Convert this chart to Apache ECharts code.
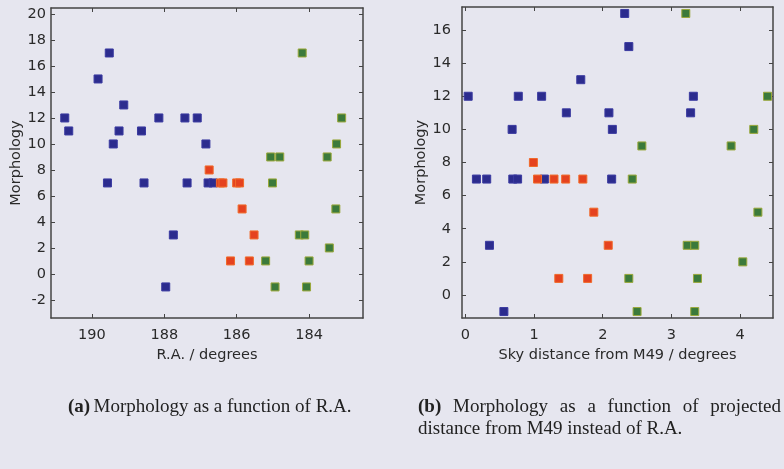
<!DOCTYPE html>
<html>
<head>
<meta charset="utf-8">
<script src="https://cdn.jsdelivr.net/npm/echarts@6/dist/echarts.min.js"></script>
<style>
html,body{margin:0;padding:0;background:#e6e6ef;}
#c{width:784px;height:469px;}
</style>
</head>
<body>
<div id="c"></div>
<script>
// Panel (a): Morphology vs R.A.
const raBlue = [190.75,190.64,189.83,189.52,189.41,189.25,189.12,188.63,188.15,187.43,187.09,186.85,189.57,188.56,187.37,186.79,186.65,187.75,187.96];
const morphBlueA = [12,11,15,17,10,11,13,11,12,12,12,10,7,7,7,7,7,3,-1];
const raRed = [186.76,186.45,186.38,186.0,185.92,185.85,185.52,186.17,185.65];
const morphRedA = [8,7,7,7,7,5,3,1,1];
const raGreen = [185.06,184.81,183.5,185.01,183.26,184.27,184.12,183.44,185.2,184.0,184.94,184.07,184.19,183.1,183.24];
const morphGreenA = [9,9,9,7,5,3,3,2,1,1,-1,-1,17,12,10];

// Panel (b): Morphology vs sky distance from M49
const distBlue = [0.04,0.77,1.11,3.32,1.68,1.47,2.09,3.28,0.68,2.14,2.32,2.38,0.16,0.31,0.69,0.76,1.15,2.13,0.35,0.56];
const morphBlueB = [12,12,12,12,13,11,11,11,10,10,17,15,7,7,7,7,7,7,3,-1];
const distRed = [0.99,1.05,1.29,1.46,1.71,1.87,2.08,1.36,1.78];
const morphRedB = [8,7,7,7,7,5,3,1,1];
const distGreen = [3.21,4.40,4.20,2.57,3.87,2.43,4.26,3.23,3.34,4.04,2.38,3.38,2.50,3.34];
const morphGreenB = [17,12,10,9,9,7,5,3,3,2,1,1,-1,-1];

// Tick labels
const raTicks = [184,186,188,190];
const morphTicksA = [-2,0,2,4,6,8,10,12,14,16,18,20];
const distTicks = [0,1,2,3,4];
const morphTicksB = [0,2,4,6,8,10,12,14,16];

// Captions
const captionA = 'Morphology as a function of R.A.';
const captionB1 = ['Morphology','as','a','function','of','projected'];
const captionB2 = 'distance from M49 instead of R.A.';

const zip = (a,b) => a.map((v,i) => [v,b[i]]);

const axisColor = '#444';
const labelStyle = {color:'#2a2a2a', fontFamily:'DejaVu Sans', fontSize:14.5};
function axis(opts){
  return Object.assign({
    type:'value',
    axisLine:{show:true, onZero:false, lineStyle:{color:axisColor, width:1.5}},
    axisTick:{show:true, inside:true, length:4, lineStyle:{color:axisColor}, customValues:opts.ticks},
    axisLabel:Object.assign({show:opts.labels, customValues:opts.ticks, margin:opts.margin||6}, labelStyle),
    splitLine:{show:false},
    nameTextStyle:Object.assign({}, labelStyle),
  }, opts.extra);
}

const colors = {blue:'#2c2c8e', red:'#e5421f', green:'#3b7a3b'};
function ser(name, data, xi, yi, color, border){
  return {type:'scatter', name, data, xAxisIndex:xi, yAxisIndex:yi, symbol:'rect', symbolSize:8,
    itemStyle:{color, borderColor:border, borderWidth:1, opacity:1}, silent:true, animation:false};
}

// Caption text (justified first line of (b), as in LaTeX)
const capFont = 'Liberation Serif';
const capSize = 19;
const capColor = '#222';
const mctx = document.createElement('canvas').getContext('2d');
function tw(t, bold){ mctx.font = (bold?'bold ':'') + capSize + 'px "' + capFont + '"'; return mctx.measureText(t).width; }

const graphics = [];
graphics.push({type:'text', left:68, top:398, style:{rich:{
    b:{fontFamily:capFont, fontSize:capSize, fontWeight:'bold', fill:capColor},
    n:{fontFamily:capFont, fontSize:capSize, fill:capColor}},
  text:'{b|(a)} {n|' + captionA + '}'}});
const bStart = 418, bEnd = 781;
const words = [{t:'(b)', bold:true}].concat(captionB1.map(t => ({t, bold:false})));
const totalW = words.reduce((s,w) => s + tw(w.t, w.bold), 0);
const gap = Math.max(tw(' ', false), (bEnd - bStart - totalW) / (words.length - 1));
let xpos = bStart;
words.forEach(w => {
  graphics.push({type:'text', left:xpos, top:398, style:{text:w.t, fontFamily:capFont, fontSize:capSize,
    fontWeight:w.bold?'bold':'normal', fill:capColor}});
  xpos += tw(w.t, w.bold) + gap;
});
graphics.push({type:'text', left:bStart, top:420, style:{fontFamily:capFont, fontSize:capSize, fill:capColor, text:captionB2}});

const option = {
  backgroundColor:'#e6e6ef',
  animation:false,
  grid:[
    {left:51, top:8, width:312, height:310},
    {left:462, top:7, width:311, height:311}
  ],
  xAxis:[
    axis({ticks:raTicks, labels:true, margin:10, extra:{gridIndex:0, min:182.51, max:191.13, inverse:true, position:'bottom',
      name:'R.A. / degrees', nameLocation:'middle', nameGap:29}}),
    axis({ticks:raTicks, labels:false, extra:{gridIndex:0, min:182.51, max:191.13, inverse:true, position:'top'}}),
    axis({ticks:distTicks, labels:true, margin:10, extra:{gridIndex:1, min:-0.05, max:4.48, position:'bottom',
      name:'Sky distance from M49 / degrees', nameLocation:'middle', nameGap:29}}),
    axis({ticks:distTicks, labels:false, extra:{gridIndex:1, min:-0.05, max:4.48, position:'top'}})
  ],
  yAxis:[
    axis({ticks:morphTicksA, labels:true, margin:5, extra:{gridIndex:0, min:-3.39, max:20.46, position:'left',
      name:'Morphology', nameLocation:'middle', nameGap:26}}),
    axis({ticks:morphTicksA, labels:false, extra:{gridIndex:0, min:-3.39, max:20.46, position:'right'}}),
    axis({ticks:morphTicksB, labels:true, margin:11, extra:{gridIndex:1, min:-1.39, max:17.39, position:'left',
      name:'Morphology', nameLocation:'middle', nameGap:32}}),
    axis({ticks:morphTicksB, labels:false, extra:{gridIndex:1, min:-1.39, max:17.39, position:'right'}})
  ],
  series:[
    ser('blueA', zip(raBlue, morphBlueA), 0, 0, colors.blue, '#3a3aa0'),
    ser('redA', zip(raRed, morphRedA), 0, 0, colors.red, '#f06a2a'),
    ser('greenA', zip(raGreen, morphGreenA), 0, 0, colors.green, '#9aa83a'),
    ser('blueB', zip(distBlue, morphBlueB), 2, 2, colors.blue, '#3a3aa0'),
    ser('redB', zip(distRed, morphRedB), 2, 2, colors.red, '#f06a2a'),
    ser('greenB', zip(distGreen, morphGreenB), 2, 2, colors.green, '#9aa83a')
  ],
  graphic:graphics
};
const chart = echarts.init(document.getElementById('c'), null, {renderer:'canvas'});
chart.setOption(option);
</script>
</body>
</html>
